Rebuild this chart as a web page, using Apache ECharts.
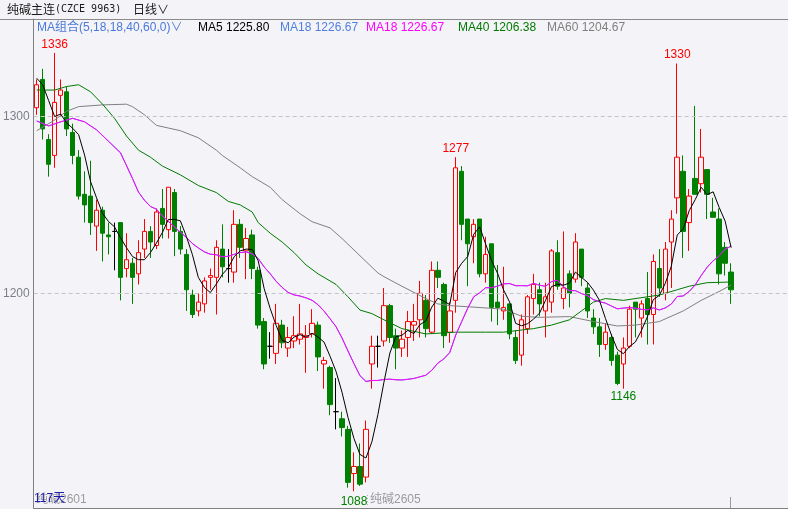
<!DOCTYPE html>
<html><head><meta charset="utf-8">
<script src="https://cdn.jsdelivr.net/npm/echarts@6/dist/echarts.min.js"></script>
<style>html,body{margin:0;padding:0;background:#f4f4f8;}#c{width:788px;height:509px;}</style>
</head><body><div id="c"></div><script>
// ---- data (daily candles, 117 days) ----
const opens  = [1305,1321,1287,1278,1312,1314,1291,1277,1256,1255,1238,1247,1233,1235,1240,1214,1217,1211,1225,1235,
                1227,1248,1236,1257,1235,1222,1199,1190,1194,1209,1209,1225,1214,1212,1239,1224,1233,1213,1184,1170,
                1166,1182,1169,1173,1174,1175,1177,1182,1160,1158,1133,1129,1123,1098,1102,1096,1160,1170,1173,1193,
                1176,1169,1175,1182,1185,1196,1178,1213,1205,1178,1196,1269,1242,1232,1242,1211,1228,1195,1190,1194,
                1175,1165,1180,1197,1202,1190,1195,1223,1197,1211,1208,1225,1203,1186,1181,1171,1175,1165,1160,1170,
                1195,1186,1197,1188,1214,1200,1229,1254,1269,1240,1265,1262,1270,1246,1242,1226,1212];
const closes = [1318,1293,1273,1308,1315,1293,1278,1255,1250,1240,1247,1234,1232,1235,1209,1219,1209,1223,1235,1229,
                1246,1239,1260,1235,1225,1202,1188,1195,1207,1210,1226,1215,1214,1239,1226,1231,1214,1182,1160,1170,
                1183,1172,1175,1176,1177,1176,1183,1164,1162,1137,1133,1124,1093,1102,1092,1123,1170,1170,1193,1175,
                1169,1174,1184,1184,1200,1180,1213,1209,1176,1190,1271,1239,1228,1239,1211,1222,1192,1192,1192,1177,
                1162,1185,1198,1205,1194,1198,1224,1204,1203,1200,1229,1209,1190,1181,1171,1178,1162,1149,1169,1191,
                1191,1194,1188,1218,1203,1225,1242,1277,1235,1255,1256,1277,1256,1243,1211,1217,1202];
const lows   = [1301,1287,1266,1271,1300,1289,1273,1253,1240,1233,1224,1218,1222,1213,1196,1209,1194,1205,1220,1220,
                1225,1231,1231,1221,1222,1190,1186,1187,1189,1202,1188,1209,1206,1206,1220,1208,1208,1180,1157,1163,
                1160,1169,1164,1169,1171,1155,1175,1156,1146,1131,1123,1119,1090,1088,1091,1093,1146,1158,1170,1172,
                1157,1164,1164,1173,1175,1175,1177,1203,1169,1172,1189,1230,1204,1217,1209,1206,1184,1182,1185,1174,
                1160,1159,1177,1188,1187,1175,1189,1202,1191,1192,1206,1204,1186,1177,1164,1168,1159,1148,1146,1169,
                1175,1175,1171,1171,1198,1196,1203,1245,1220,1224,1256,1257,1242,1243,1205,1210,1194];
const highs  = [1321,1327,1290,1336,1321,1317,1296,1281,1269,1275,1253,1249,1240,1240,1240,1234,1220,1230,1242,1238,
                1248,1259,1260,1259,1238,1225,1202,1200,1209,1214,1230,1239,1225,1247,1242,1237,1236,1215,1186,1178,
                1194,1185,1181,1187,1194,1182,1191,1184,1164,1159,1152,1133,1125,1110,1115,1128,1176,1176,1203,1194,
                1180,1179,1190,1194,1207,1199,1218,1218,1206,1195,1277,1272,1242,1242,1242,1232,1228,1216,1215,1194,
                1179,1188,1199,1211,1206,1206,1225,1230,1235,1213,1234,1225,1206,1191,1186,1183,1177,1167,1175,1193,
                1195,1196,1212,1222,1225,1229,1247,1330,1278,1259,1306,1293,1270,1254,1248,1229,1217];
const dayIndex = Array.from({length: opens.length}, (_, i) => String(i + 1));

// MA values at the start of the window (history before day 1 is not shown)
const ma5Head  = [[0,1321.7],[1,1318],[2,1309],[3,1300]];
const ma18Head = [[0,1297.5],[2,1294.7],[4,1297],[6,1299],[8,1297],[10,1292.5],[12,1286],[14,1279.5],[16,1265]];
// MA40 / MA60 readings [day index, value]
const ma40Pts = [[0,1315],[3,1315],[5,1317],[7,1318],[9,1314],[11,1307],[13,1299],[15,1289],[17,1281],[19,1277],
                 [21,1272],[24,1267],[27,1261],[30,1257],[32,1252],[34,1250],[36,1246],[37,1240],[39,1234],[41,1229],
                 [43,1223],[45,1216],[47,1211],[50,1205],[52,1198],[54,1190.5],[56,1188.5],[58,1185],[61,1180],[65,1177],
                 [70,1178],[75,1178],[78,1178],[83,1180],[86,1182],[89,1185],[91,1190],[93,1195],[95,1197],[98,1196],
                 [102,1198],[104,1199],[107,1202],[109,1204],[112,1206],[116,1206.38]];
const ma60Pts = [[0,1292],[3,1298],[5,1303],[7,1305.6],[11,1306.6],[15,1307],[16,1305.6],[18,1301],[20,1295],[24,1292],
                 [27,1288],[30,1281],[31,1278],[34,1271],[36,1266],[39,1260],[41,1253],[44,1245],[46,1240.5],[49,1237],
                 [51,1231],[53,1224.5],[55,1218],[57,1211.5],[58,1209.4],[61,1204],[65,1197],[67,1194],[69,1193],[72,1192.4],
                 [78,1191],[81,1187],[84,1186.4],[89,1186.8],[93,1184],[97,1181.5],[100,1182],[104,1184],[108,1190],[111,1196],
                 [114,1201],[116,1204.67]];
const yTicks = [1200, 1300];

function movingAvg(n, head) {
  const out = head.slice();
  for (let i = n - 1; i < closes.length; i++) {
    let s = 0;
    for (let k = i - n + 1; k <= i; k++) s += closes[k];
    out.push([i, +(s / n).toFixed(2)]);
  }
  return out;
}
const ma5 = movingAvg(5, ma5Head);
const ma18 = movingAvg(18, ma18Head);
const candles = opens.map((o, i) => [o, closes[i], lows[i], highs[i]]);

const BG = '#f4f4f8';
const FONT = '"Liberation Sans","Noto Sans CJK SC",sans-serif';
function lineSeries(name, data, color, z) {
  return {type: 'line', name, data, symbol: 'none', showSymbol: false, z,
    lineStyle: {width: 1, color}, itemStyle: {color}, animation: false, silent: true};
}
function mp(coord, color, dy) {
  return {coord, value: coord[1], symbol: 'circle', symbolSize: 1, itemStyle: {color: 'rgba(0,0,0,0)'},
    label: {show: true, position: 'inside', offset: [0, dy], color, fontSize: 12, fontFamily: FONT, formatter: '{c}'}};
}
function txt(x, y, text, fill, font) {
  return {type: 'text', silent: true, style: {x, y, text, fill, font: font || ('12px ' + FONT),
    textAlign: 'left', textVerticalAlign: 'middle'}};
}

const chart = echarts.init(document.getElementById('c'), null, {renderer: 'canvas'});
chart.setOption({
  backgroundColor: BG,
  animation: false,
  grid: {left: 33, right: 0, top: 19, bottom: 1, containLabel: false},
  xAxis: {type: 'category', data: dayIndex, max: 125, boundaryGap: true,
    axisLine: {show: true, lineStyle: {color: '#808080', width: 1}}, axisTick: {show: false},
    axisLabel: {show: false}, splitLine: {show: false}},
  yAxis: {type: 'value', min: 1078.5, max: 1355.2, scale: true,
    axisLine: {show: true, lineStyle: {color: '#808080', width: 1}}, axisTick: {show: false},
    splitLine: {show: false},
    axisLabel: {show: true, customValues: yTicks, color: '#7e7e8a', fontSize: 12, fontFamily: FONT, margin: 4,
      formatter: v => String(Math.round(v))}},
  series: [
    {type: 'candlestick', name: 'K', data: candles, barWidth: 5, z: 2,
      itemStyle: {color: BG, color0: '#008000', borderColor: '#ff0000', borderColor0: '#008000',
        borderColorDoji: '#000000', borderWidth: 1},
      markLine: {silent: true, symbol: ['none', 'none'], label: {show: false}, animation: false,
        lineStyle: {type: [4, 3], color: '#c4c4c8', width: 1},
        data: yTicks.map(v => ({yAxis: v}))},
      markPoint: {silent: true, animation: false, data: [
        mp([3, highs[3]], '#ff0000', -8),
        mp([107, highs[107]], '#ff0000', -9),
        mp([70, highs[70]], '#ff0000', -9),
        mp([98, lows[98]], '#008000', 8),
        mp([53, lows[53]], '#008000', 10)
      ]}
    },
    lineSeries('MA60', ma60Pts, '#808080', 3),
    lineSeries('MA40', ma40Pts, '#007a00', 4),
    lineSeries('MA18b', ma18, '#4f7fe0', 4),
    lineSeries('MA18', ma18, '#ff00ff', 5),
    lineSeries('MA5', ma5, '#000000', 6)
  ],
  graphic: [
    {type: 'line', silent: true, shape: {x1: 0, y1: 19.5, x2: 788, y2: 19.5}, style: {stroke: '#8a8a8a', lineWidth: 1}},
    txt(7, 9, '纯碱主连', '#1a1a1a', '12px "Noto Sans CJK SC",sans-serif'),
    txt(55, 9, '(CZCE 9963)', '#1a1a1a', '10px "DejaVu Sans Mono",monospace'),
    txt(133, 9, '日线∨', '#1a1a1a', '12px "Noto Sans CJK SC",sans-serif'),
    txt(37, 28, 'MA组合(5,18,18,40,60,0)∨', '#4a78d8'),
    txt(198, 28, 'MA5 1225.80', '#000000'),
    txt(280, 28, 'MA18 1226.67', '#4f7fe0'),
    txt(366, 28, 'MA18 1226.67', '#ff00ff'),
    txt(458, 28, 'MA40 1206.38', '#007a00'),
    txt(547, 28, 'MA60 1204.67', '#808080'),
    txt(36, 500, '纯碱2601', '#9a9aa0'),
    txt(34, 499, '117天', '#1c1ca8'),
    txt(370, 500, '纯碱2605', '#9a9aa0'),
    {type: 'line', silent: true, shape: {x1: 367.5, y1: 495, x2: 367.5, y2: 507}, style: {stroke: '#b0b0b0', lineWidth: 1, lineDash: [1, 2]}},
    {type: 'line', silent: true, shape: {x1: 730.5, y1: 497, x2: 730.5, y2: 508}, style: {stroke: '#9a9a9a', lineWidth: 1}}
  ]
});
</script></body></html>
